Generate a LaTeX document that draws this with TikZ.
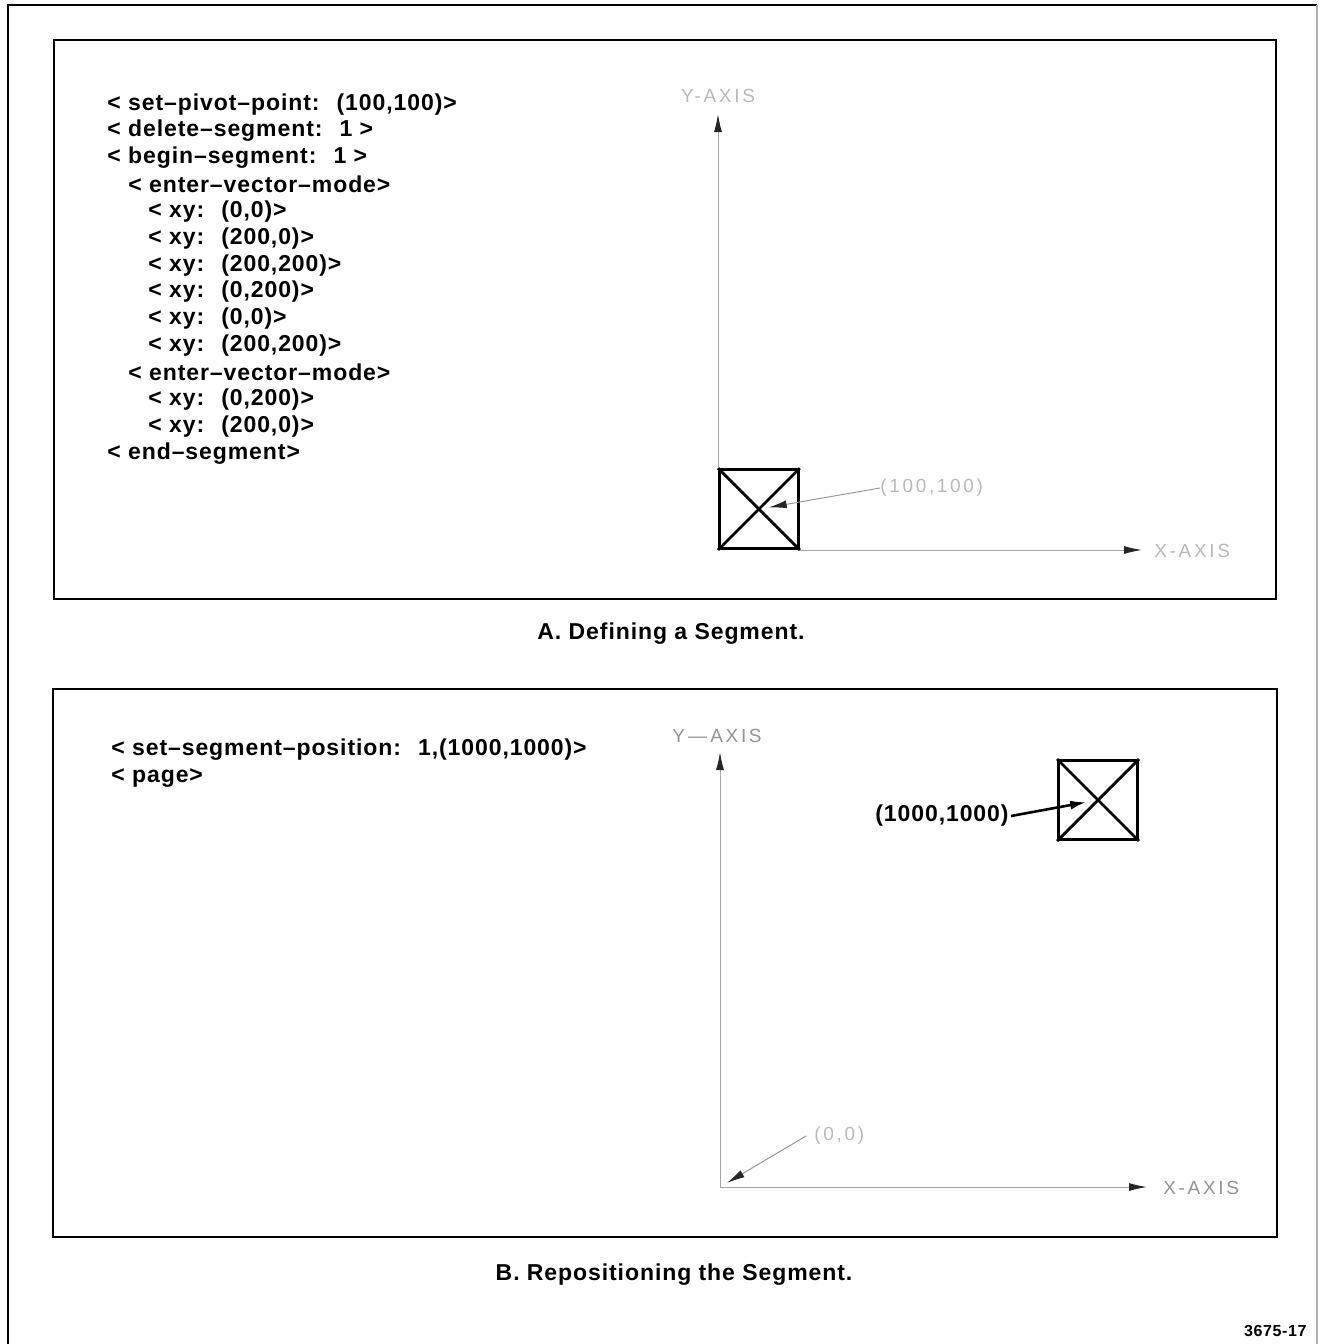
\documentclass[tikz,border=0pt]{standalone}
\usepackage{fontspec}
\setmainfont{Liberation Sans}[LetterSpace=4]
\usetikzlibrary{arrows.meta}

\begin{document}
\begin{tikzpicture}[x=0.5pt, y=-0.5pt, font=\bfseries\fontsize{11.5}{13}\selectfont,
    cmd/.style={anchor=west, inner sep=0pt},
    axis/.style={gray!70, line width=0.5pt, -{Latex[length=9pt,width=4pt,color=black!85]}},
    faint/.style={inner sep=0pt, text=gray!55, font=\mdseries\fontsize{9.5}{11}\selectfont\addfontfeature{LetterSpace=14}},
    seg/.style={draw, line width=1.4pt, minimum size=39.5pt, inner sep=0pt}]
  \useasboundingbox (0,0) rectangle (1319,1344);
  \draw[line width=1pt] (8,1344) -- (8,5) -- (1317,5);
  \draw[line width=0.6pt, gray!60] (1317,5) -- (1317,1344);

  % A: defining the segment
  \draw[line width=1.2pt] (54,40) rectangle (1276,599);
  \foreach \i/\x/\lab in {1/107/{< set–pivot–point:~ (100,100)>}, 2/107/{< delete–segment:~ 1 >},
      3/107/{< begin–segment:~ 1 >}, 4/128/{< enter–vector–mode>},
      5/148/{< xy:~ (0,0)>}, 6/148/{< xy:~ (200,0)>}, 7/148/{< xy:~ (200,200)>},
      8/148/{< xy:~ (0,200)>}, 9/148/{< xy:~ (0,0)>}, 10/148/{< xy:~ (200,200)>},
      11/128/{< enter–vector–mode>}, 12/148/{< xy:~ (0,200)>}, 13/148/{< xy:~ (200,0)>},
      14/107/{< end–segment>}} {
    \node[cmd] (a\i) at (\x,{77.2+26.85*\i}) {\lab};
  }
  \coordinate (oA) at (718,550);
  \coordinate (yA) at (718,114);
  \coordinate (xA) at (1142,550);
  \node[seg, anchor=south west] (boxA) at (oA) {};
  \draw[line width=1.4pt] (boxA.north west) -- (boxA.south east) (boxA.south west) -- (boxA.north east);
  \draw[axis] (boxA.north west) -- (yA);
  \draw[axis] (boxA.south east) -- (xA);
  \node[faint] (ylabA) at (718,96) {Y-AXIS};
  \node[faint, anchor=west] (xlabA) at (1154,551) {X-AXIS};
  \node[faint, anchor=west] (pivA) at (880,488) {(100,100)};
  \draw[axis, gray!80, shorten >=5pt] (pivA.west) -- (boxA.center);
  \node (capA) at (671,634) {A. Defining a Segment.};

  % B: repositioning it
  \draw[line width=1.2pt] (53,689) rectangle (1277,1237);
  \node[cmd] (b1) at (111,750) {< set–segment–position:~ 1,(1000,1000)>};
  \node[cmd] (b2) at (111,778) {< page>};
  \coordinate (oB) at (720,1187);
  \coordinate (yB) at (720,752);
  \coordinate (xB) at (1147,1187);
  \draw[axis] (oB) -- (yB);
  \draw[axis] (oB) -- (xB);
  \node[faint, text=gray!85] (ylabB) at (717,736) {Y\,—\,AXIS};
  \node[faint, text=gray!85, anchor=west] (xlabB) at (1163,1188) {X-AXIS};
  \node[seg] (boxB) at (1098,800) {};
  \draw[line width=1.4pt] (boxB.north west) -- (boxB.south east) (boxB.south west) -- (boxB.north east);
  \node[anchor=east, inner sep=1pt] (posB) at (1011,816) {(1000,1000)};
  \draw[line width=1.3pt, -{Latex[length=8pt,width=4.5pt]}, shorten >=6pt] (posB.east) -- (boxB.center);
  \node[faint, anchor=west] (orgB) at (814,1136) {(0,0)};
  \draw[axis, gray!80, shorten >=4pt] ([xshift=-4pt]orgB.west) -- (oB);
  \node (capB) at (674,1275) {B. Repositioning the Segment.};

  \node[anchor=east, inner sep=0pt, font=\bfseries\fontsize{8}{10}\selectfont] (fig) at (1307,1331) {3675-17};
\end{tikzpicture}
\end{document}
